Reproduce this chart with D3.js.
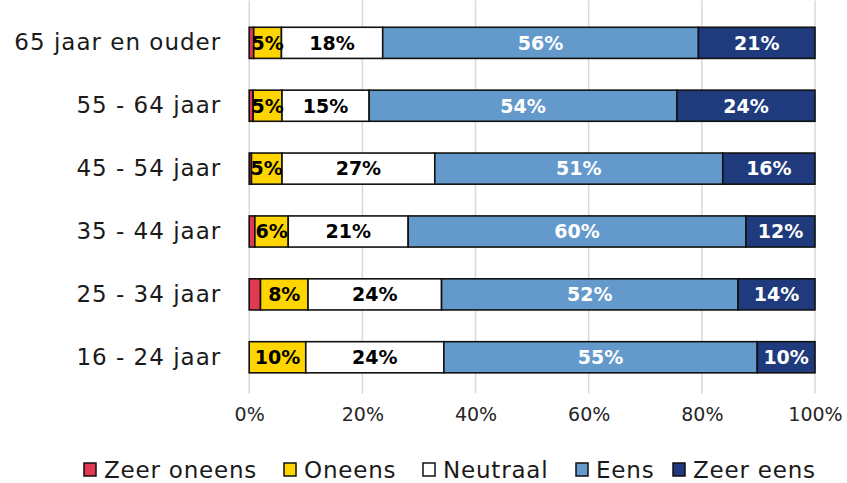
<!DOCTYPE html>
<html>
<head>
<meta charset="utf-8">
<script src="https://cdn.jsdelivr.net/npm/d3@7"></script>
<style>
  html, body { margin: 0; padding: 0; background: #fff; }
  svg { display: block; font-family: "DejaVu Sans", sans-serif; }
</style>
</head>
<body>
<svg id="chart" width="847" height="483"></svg>
<script>
// Age groups, top to bottom
const categories = ["65 jaar en ouder", "55 - 64 jaar", "45 - 54 jaar", "35 - 44 jaar", "25 - 34 jaar", "16 - 24 jaar"];
// Answer shares (%) per age group, in the order of the categories above
const zeerOneens = [0.8, 0.7, 0.4, 1.0, 2.0, 0.0];
const oneens     = [4.9, 5.1, 5.4, 5.9, 8.4, 10.0];
const neutraal   = [17.9, 15.4, 27.0, 21.2, 23.6, 24.4];
const eens       = [55.8, 54.4, 50.9, 59.7, 52.4, 55.4];
const zeerEens   = [20.6, 24.4, 16.3, 12.2, 13.6, 10.2];
const seriesNames = ["Zeer oneens", "Oneens", "Neutraal", "Eens", "Zeer eens"];
const tickValues = [0, 0.2, 0.4, 0.6, 0.8, 1.0];

const seriesColors = ["#e03a52", "#ffd500", "#ffffff", "#6499cb", "#203b7d"];
const labelColors  = ["#000", "#000", "#000", "#fff", "#fff"];
const FONT = "'DejaVu Sans', sans-serif";

const rows = categories.map((c, i) => ({
  cat: c,
  "Zeer oneens": zeerOneens[i],
  "Oneens": oneens[i],
  "Neutraal": neutraal[i],
  "Eens": eens[i],
  "Zeer eens": zeerEens[i]
}));

const stacked = d3.stack().keys(seriesNames)(rows);

const svg = d3.select("#chart");
const margin = { left: 249.2, right: 32, top: 11.4, bottom: 94.3 };
const W = 847, H = 483;

const x = d3.scaleLinear().domain([0, 100]).range([margin.left, W - margin.right]);
const y = d3.scaleBand().domain(categories).range([margin.top, H - margin.bottom]).paddingInner(0.505).paddingOuter(0.2525);

// Vertical gridlines with small tick extensions below the plot
const gridBottom = H - margin.bottom + 5;
svg.append("g")
  .selectAll("line")
  .data(tickValues)
  .join("line")
  .attr("x1", d => x(d * 100)).attr("x2", d => x(d * 100))
  .attr("y1", margin.top - 11).attr("y2", gridBottom)
  .attr("stroke", "#d9d9d9").attr("stroke-width", 1.5);

// X axis tick labels
const xAxis = d3.axisBottom(d3.scaleLinear().domain([0, 1]).range([x(0), x(100)]))
  .tickValues(tickValues).tickFormat(d3.format(".0%")).tickSize(0).tickPadding(0);
const ax = svg.append("g").attr("transform", `translate(0,${gridBottom + 14})`).call(xAxis);
ax.select(".domain").remove();
ax.selectAll("text").attr("font-size", 19).attr("fill", "#262626").attr("font-family", FONT).attr("dy", "0.71em");

// Category labels
const yAxis = d3.axisLeft(y).tickSize(0).tickPadding(0);
const ay = svg.append("g").attr("transform", `translate(${margin.left - 28},0)`).call(yAxis);
ay.select(".domain").remove();
ay.selectAll("text").attr("font-size", 23).attr("letter-spacing", "1px")
  .attr("fill", "#1a1a1a").attr("font-family", FONT);

// Stacked bars
const groups = svg.append("g").selectAll("g")
  .data(stacked)
  .join("g")
  .attr("fill", (d, i) => seriesColors[i]);

groups.selectAll("rect")
  .data(d => d.filter(p => p[1] - p[0] > 0).map(p => ({ p, key: d.key })))
  .join("rect")
  .attr("x", d => x(d.p[0]))
  .attr("y", d => y(d.p.data.cat))
  .attr("width", d => x(d.p[1]) - x(d.p[0]))
  .attr("height", y.bandwidth())
  .attr("stroke", "#111")
  .attr("stroke-width", 1.6);

// Value labels
stacked.forEach((s, si) => {
  svg.append("g").selectAll("text")
    .data(s.filter(p => p[1] - p[0] >= 3))
    .join("text")
    .attr("x", p => (x(p[0]) + x(p[1])) / 2)
    .attr("y", p => y(p.data.cat) + y.bandwidth() / 2)
    .attr("dy", "0.36em")
    .attr("text-anchor", "middle")
    .attr("font-size", 19)
    .attr("font-weight", "bold")
    .attr("font-family", FONT)
    .attr("fill", labelColors[si])
    .text(p => Math.round(p[1] - p[0]) + "%");
});

// Legend
const legendX = [84, 284, 423, 576, 673];
const legend = svg.append("g").attr("transform", "translate(0,470)");
seriesNames.forEach((name, i) => {
  const g = legend.append("g").attr("transform", `translate(${legendX[i]},0)`);
  g.append("rect").attr("x", 0).attr("y", -7).attr("width", 12).attr("height", 13)
    .attr("fill", seriesColors[i]).attr("stroke", "#111").attr("stroke-width", 1.5);
  g.append("text").attr("x", 20).attr("y", 0).attr("dy", "0.35em")
    .attr("font-size", 23).attr("letter-spacing", "0.8px")
    .attr("fill", "#1a1a1a").attr("font-family", FONT)
    .text(name);
});
</script>
</body>
</html>
